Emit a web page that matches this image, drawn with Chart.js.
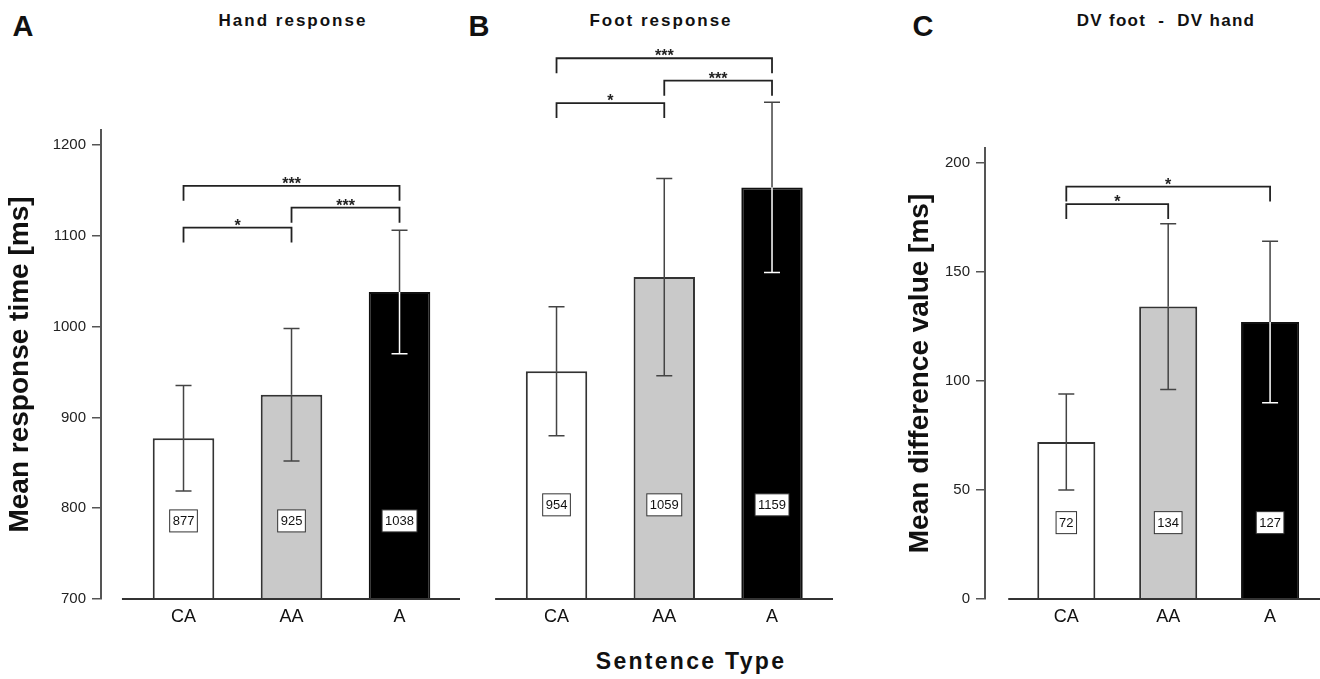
<!DOCTYPE html>
<html>
<head>
<meta charset="utf-8">
<script src="https://cdn.jsdelivr.net/npm/chart.js@4.4.0/dist/chart.umd.min.js"></script>
<style>
body{margin:0;background:#fff;width:1320px;height:679px;position:relative;overflow:hidden;font-family:"Liberation Sans",Arial,sans-serif;color:#111}
canvas{position:absolute;top:0}
.txt{position:absolute;font-weight:bold;line-height:1;white-space:pre;transform:translate(-50%,-50%)}
.letter{font-size:29px}
.head{font-size:17px;letter-spacing:2px}
</style>
</head>
<body>
<div class="txt letter" style="left:23px;top:26px">A</div>
<div class="txt letter" style="left:479px;top:26px">B</div>
<div class="txt letter" style="left:923px;top:26px">C</div>
<div class="txt head" style="left:293px;top:20px">Hand response</div>
<div class="txt head" style="left:661px;top:20px">Foot response</div>
<div class="txt head" style="left:1166px;top:20px;letter-spacing:1.3px">DV foot  -  DV hand</div>
<div class="txt" style="left:691px;top:661px;font-size:23px;letter-spacing:2.3px">Sentence Type</div>

<canvas id="chartA" width="460" height="679" style="left:0"></canvas>
<canvas id="chartB" width="400" height="679" style="left:460px"></canvas>
<canvas id="chartC" width="460" height="679" style="left:860px"></canvas>

<script>
const categories = ['CA', 'AA', 'A'];

// A: hand response
const handMeans = [877, 925, 1038];
const handErr = [58, 73, 68];
const handTicks = [700, 800, 900, 1000, 1100, 1200];
const handSigPairs = [[0, 1], [1, 2], [0, 2]];
const handSigStars = ['*', '***', '***'];
const handSigLevels = [1109, 1131, 1155];

// B: foot response
const footMeans = [954, 1059, 1159];
const footErr = [72, 110, 95];
const footSigPairs = [[0, 1], [1, 2], [0, 2]];
const footSigStars = ['*', '***', '***'];
const footSigLevels = [1253, 1278, 1303];

// C: difference foot - hand
const diffMeans = [72, 134, 127];
const diffErr = [22, 38, 37];
const diffTicks = [0, 50, 100, 150, 200];
const diffSigPairs = [[0, 1], [0, 2]];
const diffSigStars = ['*', '*'];
const diffSigLevels = [181, 189];

const barColors = ['#ffffff', '#c9c9c9', '#000000'];

Chart.defaults.font.family = '"Liberation Sans", Arial, sans-serif';
Chart.defaults.color = '#222';

// baseline, error bars, value boxes and significance brackets
const annotate = {
  id: 'annotate',
  afterDatasetsDraw(chart, args, opts) {
    const ctx = chart.ctx;
    const xs = chart.scales.x;
    const ys = chart.scales.y;
    const bars = chart.getDatasetMeta(0).data;
    const base = ys.getPixelForValue(ys.min);
    ctx.save();

    ctx.strokeStyle = '#333';
    ctx.lineWidth = 2;
    ctx.beginPath();
    ctx.moveTo(xs.getPixelForValue(opts.lineFrom), base);
    ctx.lineTo(chart.chartArea.right, base);
    ctx.stroke();

    ctx.lineWidth = 1.5;
    opts.means.forEach((m, i) => {
      const x = bars[i].x;
      const top = bars[i].y;
      const hi = ys.getPixelForValue(m + opts.err[i]);
      const lo = ys.getPixelForValue(m - opts.err[i]);
      const inner = barColors[i] === '#000000' ? '#ffffff' : '#444';
      ctx.strokeStyle = '#444';
      ctx.beginPath();
      ctx.moveTo(x - 8, hi); ctx.lineTo(x + 8, hi);
      ctx.moveTo(x, hi); ctx.lineTo(x, top);
      ctx.stroke();
      ctx.strokeStyle = inner;
      ctx.beginPath();
      ctx.moveTo(x, top); ctx.lineTo(x, lo);
      ctx.moveTo(x - 8, lo); ctx.lineTo(x + 8, lo);
      ctx.stroke();
    });

    ctx.font = '13px "Liberation Sans", Arial, sans-serif';
    ctx.textAlign = 'center';
    ctx.textBaseline = 'middle';
    ctx.lineWidth = 1;
    const by = ys.getPixelForValue(opts.boxAt);
    opts.means.forEach((m, i) => {
      const x = bars[i].x;
      const w = ctx.measureText(String(m)).width + 6;
      ctx.fillStyle = '#fff';
      ctx.fillRect(x - w / 2, by - 11, w, 22);
      ctx.strokeStyle = '#333';
      ctx.strokeRect(x - w / 2, by - 11, w, 22);
      ctx.fillStyle = '#111';
      ctx.fillText(String(m), x, by + 1);
    });

    ctx.strokeStyle = '#222';
    ctx.lineWidth = 1.8;
    ctx.font = 'bold 16px "Liberation Sans", Arial, sans-serif';
    ctx.textBaseline = 'alphabetic';
    opts.pairs.forEach((p, k) => {
      const x1 = xs.getPixelForValue(p[0]);
      const x2 = xs.getPixelForValue(p[1]);
      const y = ys.getPixelForValue(opts.levels[k]);
      ctx.beginPath();
      ctx.moveTo(x1, y + 15); ctx.lineTo(x1, y); ctx.lineTo(x2, y); ctx.lineTo(x2, y + 15);
      ctx.stroke();
      ctx.fillStyle = '#222';
      ctx.fillText(opts.stars[k], (x1 + x2) / 2, y + 3);
    });
    ctx.restore();
  }
};

function makePanel(id, p) {
  const yAxis = {
    min: p.yMin,
    max: p.yMax,
    display: p.showY,
    afterFit: s => { s.width = p.yWidth; },
    grid: { drawOnChartArea: false, drawTicks: true, tickLength: 9, color: '#555', lineWidth: 1.5 },
    border: { display: true, color: '#555', width: 2 },
    ticks: { padding: 6, color: '#222', font: { size: 15 }, callback: v => String(v) },
    title: { display: true, text: p.yTitle, color: '#111', font: { size: 28, weight: 'bold' }, padding: { top: 3, bottom: 0 } }
  };
  if (p.ticks) {
    yAxis.afterBuildTicks = s => { s.ticks = p.ticks.map(v => ({ value: v })); };
  }
  new Chart(document.getElementById(id), {
    type: 'bar',
    data: {
      datasets: [{
        data: p.means.map((v, i) => ({ x: i, y: v })),
        backgroundColor: barColors,
        borderColor: ['#333', '#333', '#111'],
        borderWidth: 2,
        categoryPercentage: 1,
        barPercentage: 0.57
      }]
    },
    options: {
      responsive: false,
      animation: false,
      devicePixelRatio: 1,
      layout: { padding: p.padding },
      plugins: {
        legend: { display: false },
        tooltip: { enabled: false },
        annotate: {
          means: p.means, err: p.err, boxAt: p.boxAt, lineFrom: -0.57,
          pairs: p.pairs, stars: p.stars, levels: p.levels
        }
      },
      scales: {
        x: {
          type: 'linear',
          offset: false,
          min: p.xMin,
          max: p.xMax,
          grid: { display: false, drawTicks: false, offset: false },
          border: { display: false },
          afterBuildTicks: s => { s.ticks = categories.map((c, i) => ({ value: i })); },
          afterFit: s => { s.height = 40; },
          ticks: { padding: 7, color: '#111', font: { size: 18 }, callback: v => categories[v] }
        },
        y: yAxis
      }
    },
    plugins: [annotate]
  });
}

makePanel('chartA', {
  means: handMeans, err: handErr, ticks: handTicks,
  pairs: handSigPairs, stars: handSigStars, levels: handSigLevels,
  yMin: 700, yMax: 1216.5, showY: true, yWidth: 101, yTitle: 'Mean response time [ms]',
  xMin: -0.764, xMax: 2.56, boxAt: 786,
  padding: { left: 0, right: 0, top: 130, bottom: 40 }
});

makePanel('chartB', {
  means: footMeans, err: footErr, ticks: null,
  pairs: footSigPairs, stars: footSigStars, levels: footSigLevels,
  yMin: 700, yMax: 1320, showY: false, yWidth: 0, yTitle: '',
  xMin: -0.571, xMax: 2.566, boxAt: 805,
  padding: { left: 35, right: 27, top: 43, bottom: 40 }
});

makePanel('chartC', {
  means: diffMeans, err: diffErr, ticks: diffTicks,
  pairs: diffSigPairs, stars: diffSigStars, levels: diffSigLevels,
  yMin: 0, yMax: 206.7, showY: true, yWidth: 85, yTitle: 'Mean difference value [ms]',
  xMin: -0.798, xMax: 2.49, boxAt: 35,
  padding: { left: 40, right: 0, top: 148, bottom: 40 }
});
</script>
</body>
</html>
